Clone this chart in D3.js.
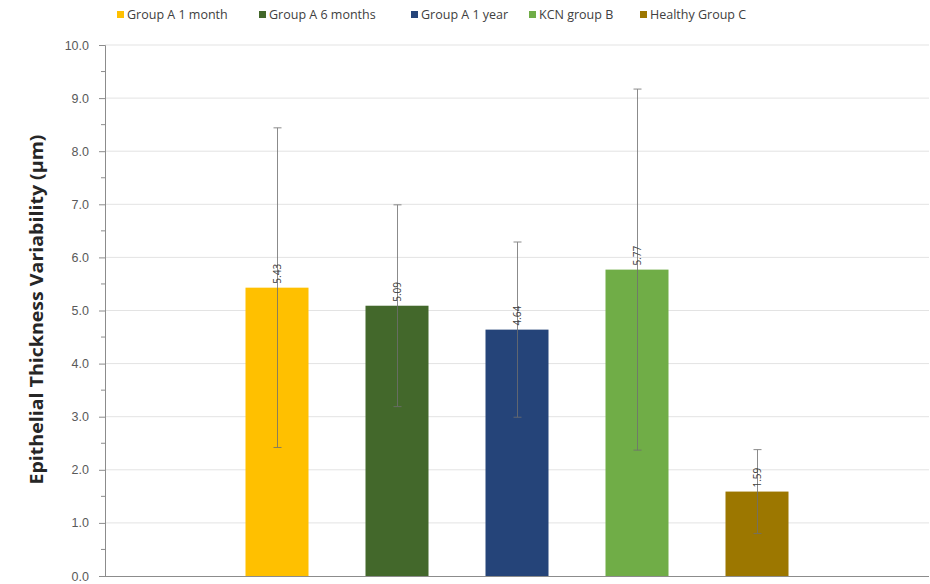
<!DOCTYPE html>
<html>
<head>
<meta charset="utf-8">
<script src="https://cdn.jsdelivr.net/npm/d3@7"></script>
<style>
  body { margin: 0; background: #fff; }
  svg { display: block; font-family: "Open Sans", "Noto Sans", sans-serif; }
</style>
</head>
<body>
<svg id="chart" width="930" height="584"></svg>
<script>
// Epithelial thickness variability per group: mean with SD error bars
const groups = ["Group A 1 month", "Group A 6 months", "Group A 1 year", "KCN group B", "Healthy Group C"];
const means = [5.43, 5.09, 4.64, 5.77, 1.59];
const sds = [3.01, 1.90, 1.65, 3.40, 0.79];
const colors = ["#FFC000", "#43682B", "#254479", "#70AD47", "#9C7700"];
const yTicks = [0, 1, 2, 3, 4, 5, 6, 7, 8, 9, 10];

const svg = d3.select("#chart");
const plot = { left: 105, right: 929, top: 45, bottom: 576 };

const y = d3.scaleLinear().domain([0, 10]).range([plot.bottom, plot.top]);
const x = d3.scaleBand().domain(groups).range([217, 817])
  .paddingInner(0.475).paddingOuter(0.2375);

// horizontal gridlines
svg.append("g").selectAll("line").data(yTicks.slice(1)).join("line")
  .attr("x1", plot.left).attr("x2", plot.right)
  .attr("y1", d => y(d)).attr("y2", d => y(d))
  .attr("stroke", "#e3e3e3").attr("stroke-width", 1);

// y axis with major ticks and minor ticks at half steps
const yAxis = svg.append("g").attr("transform", `translate(${plot.left},0)`)
  .call(d3.axisLeft(y).tickValues(yTicks).tickFormat(d3.format(".1f")).tickSize(6).tickPadding(10));
yAxis.select(".domain").attr("stroke", "#8c8c8c");
yAxis.selectAll(".tick line").attr("stroke", "#8c8c8c");
yAxis.selectAll("text").attr("fill", "#595959").attr("font-size", 12.5);
svg.append("g").selectAll("line").data(d3.range(0.5, 10, 1)).join("line")
  .attr("x1", plot.left - 4).attr("x2", plot.left)
  .attr("y1", d => y(d)).attr("y2", d => y(d))
  .attr("stroke", "#8c8c8c");

// axis title
svg.append("text")
  .attr("transform", `translate(43,${(plot.top + plot.bottom) / 2 - 1}) rotate(-90)`)
  .attr("text-anchor", "middle").attr("font-size", 17.5).attr("font-weight", "bold")
  .attr("fill", "#262626")
  .attr("textLength", 350).attr("lengthAdjust", "spacingAndGlyphs")
  .text("Epithelial Thickness Variability (µm)");

// bars
svg.append("g").selectAll("rect").data(groups).join("rect")
  .attr("x", d => x(d)).attr("width", x.bandwidth())
  .attr("y", (d, i) => y(means[i]))
  .attr("height", (d, i) => y(0) - y(means[i]))
  .attr("fill", (d, i) => colors[i]);

// x baseline
svg.append("line").attr("x1", plot.left).attr("x2", plot.right)
  .attr("y1", plot.bottom + 0.5).attr("y2", plot.bottom + 0.5)
  .attr("stroke", "#8c8c8c");

// error bars
const eb = svg.append("g").attr("stroke", "#6f6f6f").attr("stroke-width", 1).attr("opacity", 0.8);
groups.forEach((g, i) => {
  const cx = Math.round(x(g) + x.bandwidth() / 2) + 0.5;
  const lo = y(means[i] - sds[i]), hi = y(means[i] + sds[i]);
  eb.append("line").attr("x1", cx).attr("x2", cx).attr("y1", lo).attr("y2", hi);
  eb.append("line").attr("x1", cx - 4).attr("x2", cx + 4).attr("y1", hi).attr("y2", hi);
  eb.append("line").attr("x1", cx - 4).attr("x2", cx + 4).attr("y1", lo).attr("y2", lo);
});

// rotated value labels above each bar
svg.append("g").selectAll("text").data(groups).join("text")
  .attr("transform", (d, i) => `translate(${x(d) + x.bandwidth() / 2 + 3.5},${y(means[i]) - 4}) rotate(-90)`)
  .attr("font-size", 10).attr("fill", "#404040")
  .text((d, i) => d3.format(".2f")(means[i]));

// legend
const legendX = [117, 259, 411, 529, 640];
const legend = svg.append("g").selectAll("g").data(groups).join("g")
  .attr("transform", (d, i) => `translate(${legendX[i]},15)`);
legend.append("rect").attr("x", 0).attr("y", -4).attr("width", 7).attr("height", 7)
  .attr("fill", (d, i) => colors[i]);
legend.append("text").attr("x", 10).attr("y", 4)
  .attr("font-size", 12.5).attr("fill", "#404040").text(d => d);
</script>
</body>
</html>
